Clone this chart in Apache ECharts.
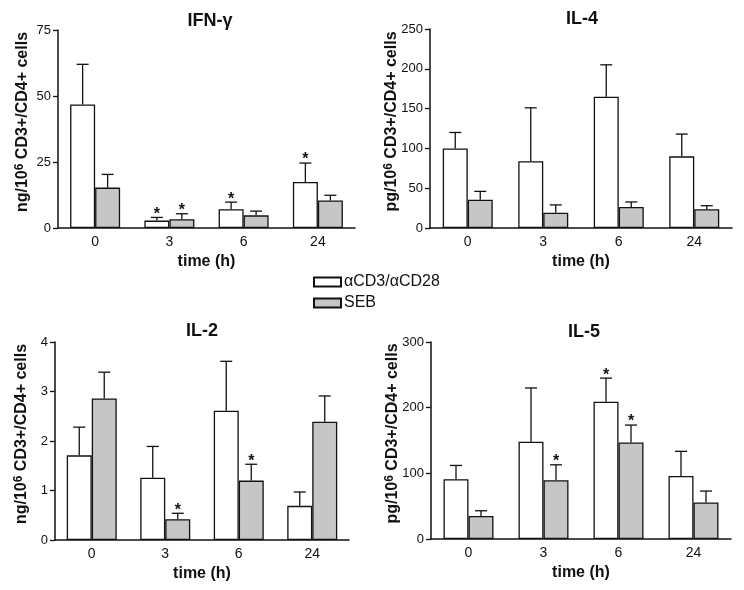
<!DOCTYPE html>
<html><head><meta charset="utf-8">
<script src="https://cdn.jsdelivr.net/npm/echarts@6/dist/echarts.min.js"></script>
<style>html,body{margin:0;padding:0;background:#fff}#c{width:744px;height:590px}</style>
</head><body><div id="c"></div>
<script>
const categories = ['0', '3', '6', '24'];
const seriesNames = ['αCD3/αCD28', 'SEB'];

const ifnAnti = [46.8, 2.8, 7.1, 17.4];
const ifnAntiErr = [15.2, 1.2, 2.7, 7.2];
const ifnAntiStar = [0, 1, 1, 1];
const ifnSeb = [15.3, 3.3, 4.8, 10.4];
const ifnSebErr = [5.0, 2.1, 1.6, 2.0];
const ifnSebStar = [0, 1, 0, 0];

const il4Anti = [100, 84, 165, 90];
const il4AntiErr = [20, 67, 40, 28];
const il4AntiStar = [0, 0, 0, 0];
const il4Seb = [35.5, 19.3, 26.4, 23.5];
const il4SebErr = [10.5, 9.7, 6.3, 4.5];
const il4SebStar = [0, 0, 0, 0];

const il2Anti = [1.71, 1.26, 2.61, 0.69];
const il2AntiErr = [0.57, 0.63, 1.0, 0.28];
const il2AntiStar = [0, 0, 0, 0];
const il2Seb = [2.86, 0.42, 1.20, 2.39];
const il2SebErr = [0.53, 0.12, 0.33, 0.52];
const il2SebStar = [0, 1, 1, 0];

const il5Anti = [91, 148, 209, 96];
const il5AntiErr = [21, 82, 36, 37.5];
const il5AntiStar = [0, 0, 1, 0];
const il5Seb = [35, 89.5, 147, 55.6];
const il5SebErr = [8, 23.5, 26.5, 17.4];
const il5SebStar = [0, 1, 1, 0];

const yTicks = {
  ifn: {min: 0, max: 75, interval: 25},
  il4: {min: 0, max: 250, interval: 50},
  il2: {min: 0, max: 4, interval: 1},
  il5: {min: 0, max: 300, interval: 100}
};

const FONT = "'Liberation Sans', Arial, Helvetica, sans-serif";
const BAR_W = 25;

const panels = [
  {title: 'IFN-γ', unit: 'ng', grid: {left: 58, top: 30, width: 297, height: 198}, ticks: yTicks.ifn, gap: 35,
   a: ifnAnti, ae: ifnAntiErr, as: ifnAntiStar, s: ifnSeb, se: ifnSebErr, ss: ifnSebStar, tx: 210, ty: 12},
  {title: 'IL-4', unit: 'pg', grid: {left: 430, top: 29, width: 302, height: 199}, ticks: yTicks.il4, gap: 38,
   a: il4Anti, ae: il4AntiErr, as: il4AntiStar, s: il4Seb, se: il4SebErr, ss: il4SebStar, tx: 582, ty: 10},
  {title: 'IL-2', unit: 'ng', grid: {left: 55, top: 342, width: 294, height: 198}, ticks: yTicks.il2, gap: 33,
   a: il2Anti, ae: il2AntiErr, as: il2AntiStar, s: il2Seb, se: il2SebErr, ss: il2SebStar, tx: 202, ty: 322},
  {title: 'IL-5', unit: 'pg', grid: {left: 431, top: 342, width: 300, height: 197}, ticks: yTicks.il5, gap: 38,
   a: il5Anti, ae: il5AntiErr, as: il5AntiStar, s: il5Seb, se: il5SebErr, ss: il5SebStar, tx: 584, ty: 323}
];

function errRender(side) {
  return function (params, api) {
    const x = api.value(0), v = api.value(1), e = api.value(2), star = api.value(3);
    const base = api.coord([x, v]);
    const top = api.coord([x, v + e]);
    const cx = base[0] + side * BAR_W / 2;
    const children = [
      {type: 'line', shape: {x1: cx, y1: base[1], x2: cx, y2: top[1]}, style: {stroke: '#111', lineWidth: 1.3}},
      {type: 'line', shape: {x1: cx - 6, y1: top[1], x2: cx + 6, y2: top[1]}, style: {stroke: '#111', lineWidth: 1.3}}
    ];
    if (star) {
      children.push({type: 'text', style: {text: '*', x: cx, y: top[1] - 3, align: 'center', verticalAlign: 'middle',
        font: 'bold 16px ' + FONT, fill: '#111'}});
    }
    return {type: 'group', children: children};
  };
}

const option = {
  animation: false,
  backgroundColor: '#fff',
  textStyle: {fontFamily: FONT, color: '#111'},
  title: [], grid: [], xAxis: [], yAxis: [], series: [],
  legend: {
    data: seriesNames, orient: 'vertical', left: 313, top: 274, padding: 0, itemWidth: 27, itemHeight: 9, itemGap: 5,
    icon: 'rect', textStyle: {fontSize: 16, color: '#111', fontFamily: FONT, padding: [0, 0, 0, -2]}, selectedMode: false
  }
};

panels.forEach(function (p, i) {
  option.title.push({text: p.title, left: p.tx, top: p.ty, textAlign: 'center', padding: 0,
    textStyle: {fontSize: 18, fontWeight: 'bold', color: '#111', fontFamily: FONT}});
  option.grid.push(p.grid);
  option.xAxis.push({
    type: 'category', gridIndex: i, data: categories,
    axisLine: {lineStyle: {color: '#111', width: 1.5}}, axisTick: {show: false},
    axisLabel: {fontSize: 14, color: '#111', margin: 7, fontFamily: FONT},
    name: 'time (h)', nameLocation: 'middle', nameGap: 26, nameMoveOverlap: false,
    nameTextStyle: {fontSize: 16, fontWeight: 'bold', color: '#111', fontFamily: FONT, verticalAlign: 'top'}
  });
  option.yAxis.push({
    type: 'value', gridIndex: i, min: p.ticks.min, max: p.ticks.max, interval: p.ticks.interval,
    axisLine: {show: true, lineStyle: {color: '#111', width: 1.5}},
    axisTick: {show: true, length: 5, lineStyle: {color: '#111', width: 1.3}},
    axisLabel: {fontSize: 13, color: '#111', margin: 7, fontFamily: FONT},
    splitLine: {show: false},
    name: p.unit + '/10{sup|6} CD3+/CD4+ cells', nameLocation: 'middle', nameRotate: 90, nameGap: p.gap,
    nameMoveOverlap: false,
    nameTextStyle: {fontSize: 16, fontWeight: 'bold', color: '#111', fontFamily: FONT, padding: [0, 0, 0, 14],
      verticalAlign: 'middle',
      rich: {sup: {fontSize: 12, fontWeight: 'bold', fontFamily: FONT, color: '#111', verticalAlign: 'top', padding: [0, 0, 6, 0]}}}
  });
  const sets = [
    {name: seriesNames[0], v: p.a, e: p.ae, st: p.as, color: '#ffffff', side: -1},
    {name: seriesNames[1], v: p.s, e: p.se, st: p.ss, color: '#c6c6c6', side: 1}
  ];
  sets.forEach(function (s) {
    option.series.push({
      type: 'bar', name: s.name, xAxisIndex: i, yAxisIndex: i, data: s.v, barWidth: BAR_W, barGap: '0%',
      itemStyle: {color: s.color, borderColor: '#111', borderWidth: 1.3}
    });
  });
  sets.forEach(function (s) {
    option.series.push({
      type: 'custom', name: 'err' + i + s.side, xAxisIndex: i, yAxisIndex: i, z: 5,
      renderItem: errRender(s.side),
      data: s.v.map(function (v, k) { return [k, v, s.e[k], s.st[k]]; })
    });
  });
});

const chart = echarts.init(document.getElementById('c'), null, {renderer: 'canvas'});
chart.setOption(option);
</script></body></html>
